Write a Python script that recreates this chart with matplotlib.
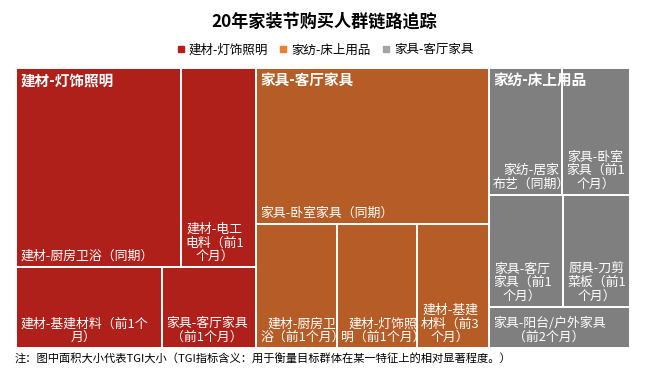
import matplotlib
matplotlib.use('Agg')
import matplotlib.pyplot as plt
from matplotlib.patches import Rectangle
from matplotlib.lines import Line2D

plt.rcParams['font.family'] = ['Noto Sans CJK SC', 'DejaVu Sans']

# 資料
title = '20年家装节购买人群链路追踪'
note = '注：图中面积大小代表TGI大小（TGI指标含义：用于衡量目标群体在某一特征上的相对显著程度。）'
group_names = ['建材-灯饰照明', '家具-客厅家具', '家纺-床上用品']
legend_names = ['建材-灯饰照明', '家纺-床上用品', '家具-客厅家具']
colors = ['#AE2019', '#B65D27', '#7F7F7F']
legend_colors = ['#B3201A', '#ED7D31', '#A5A5A5']

# 每組的行 (標籤, 數值)
red_labels = [['建材-厨房卫浴（同期）', '建材-电工\n电料（前1\n个月）'],
              ['建材-基建材料（前1个\n月）', '家具-客厅家具\n（前1个月）']]
red_values = [[328, 149], [118, 76]]

orange_labels = [['家具-卧室家具（同期）'],
                 ['建材-厨房卫\n浴（前1个月）', '建材-灯饰照\n明（前1个月）', '建材-基建\n材料（前3\n个月）']]
orange_values = [[363], [100, 99, 89]]

gray_labels = [['家纺-居家\n布艺（同期）', '家具-卧室\n家具（前1\n个月）'],
               ['家具-客厅\n家具（前1\n个月）', '厨具-刀剪\n菜板（前1\n个月）'],
               ['家具-阳台/户外家具\n（前2个月）']]
gray_values = [[93, 86], [83, 75], [58]]

all_labels = [red_labels, orange_labels, gray_labels]
all_values = [red_values, orange_values, gray_values]

fig = plt.figure(figsize=(6.5, 3.73), dpi=100)
ax = fig.add_axes([16/650, 25/373, 614/650, 280/373])
ax.set_xlim(0, 1)
ax.set_ylim(0, 1)
ax.axis('off')

total = sum(sum(sum(r) for r in g) for g in all_values)

x = 0
for gname, labels, values, c in zip(group_names, all_labels, all_values, colors):
    gsum = sum(sum(r) for r in values)
    w = gsum / total
    y = 1
    for row_lab, row_val in zip(labels, values):
        rsum = sum(row_val)
        h = rsum / gsum
        y -= h
        xx = x
        for lab, v in zip(row_lab, row_val):
            ww = v / rsum * w
            ax.add_patch(Rectangle((xx, y), ww, h, facecolor=c, edgecolor='white', lw=1.4))
            ax.annotate(lab, (xx, y), xytext=(3, 3), textcoords='offset points',
                        ha='left', va='bottom', multialignment='center',
                        color='white', fontsize=9.3, linespacing=1.05)
            xx += ww
    # 組標題
    ax.annotate(gname, (x, 1), xytext=(3, -3), textcoords='offset points',
                ha='left', va='top', color='white', fontsize=10.5, fontweight='bold')
    x += w

fig.text(324/650, 1 - 22/373, title, ha='center', va='center', fontsize=12.3, fontweight='bold')

handles = [Line2D([], [], marker='s', ls='', color=c, markersize=4.5) for c in legend_colors]
fig.legend(handles, legend_names, loc='center', bbox_to_anchor=(325/650, 1 - 50/373), ncol=3,
           frameon=False, fontsize=9, handlelength=0.6, handletextpad=0.35, columnspacing=0.9)

fig.text(15/650, 15/373, note, ha='left', va='center', fontsize=8.1)

fig.savefig('out.png', dpi=100)
